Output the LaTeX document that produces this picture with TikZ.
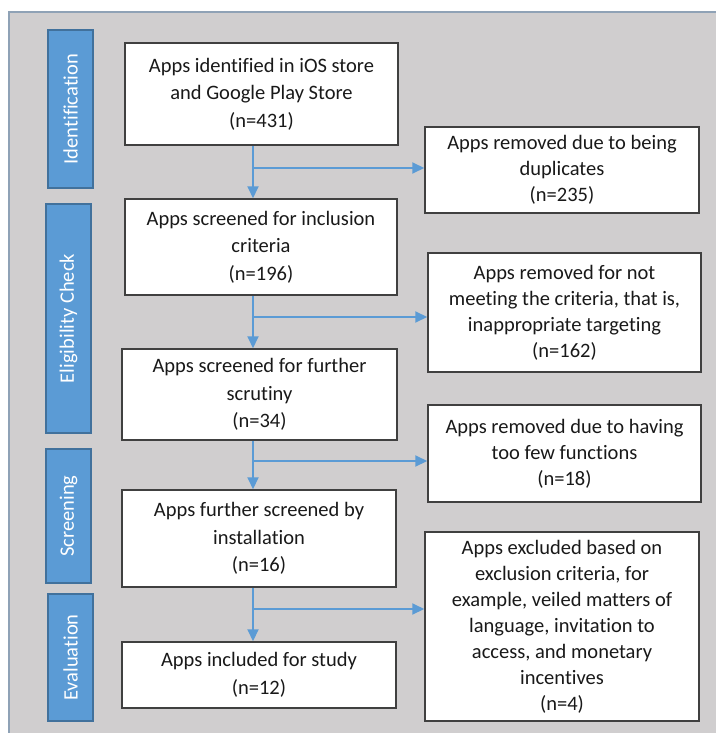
\documentclass[tikz,border=0pt]{standalone}
\usepackage{fontspec}
\setmainfont[Ligatures=NoCommon]{Carlito}
\usetikzlibrary{arrows.meta}

\definecolor{panelgray}{HTML}{D0CECF}
\definecolor{panelline}{HTML}{8FA2B6}
\definecolor{stageblue}{HTML}{5B9BD5}
\definecolor{stageedge}{HTML}{41719C}
\definecolor{boxedge}{HTML}{404040}

\tikzset{
  appbox/.style={draw=boxedge, line width=1.5pt, fill=white, align=center,
    inner sep=0pt, text=black!90, font=\fontsize{20.5}{27.5}\selectfont},
  outbox/.style={appbox, font=\fontsize{20.5}{26}\selectfont},
  stagebar/.style={draw=stageedge, line width=1.5pt, fill=stageblue, rotate=90,
    inner sep=0pt, text=white, minimum height=45pt, font=\fontsize{20.5}{24}\selectfont},
  flow/.style={draw=stageblue, line width=2pt, -{Triangle[length=12pt,width=11pt]}}
}

\begin{document}
\begin{tikzpicture}[x=1pt,y=-1pt]
  \useasboundingbox (0,0) rectangle (716,733);
  % grey panel
  \fill[panelgray] (9,12) rectangle (716,733);
  \draw[panelline, line width=1.5pt] (9,733) -- (9,12) -- (716,12);

  % stage bars
  \foreach \nm/\xc/\yc/\len/\txt in {1/70.5/109/158/Identification,
      2/68.5/318.5/229/Eligibility Check,
      3/68.5/516/134/Screening,
      4/70.5/657.5/127/Evaluation}{
    \node[stagebar, minimum width=\len pt] (s\nm) at (\xc,\yc) {\txt};
  };

  % main column
  \node[appbox, minimum width=273pt, minimum height=102pt] (b1) at (261.5,94)
    {Apps identified in iOS store\\and Google Play Store\\(n=431)};
  \node[appbox, minimum width=272pt, minimum height=96pt] (b2) at (261,247)
    {Apps screened for inclusion\\criteria\\(n=196)};
  \node[appbox, minimum width=275pt, minimum height=91pt] (b3) at (259.5,394.5)
    {Apps screened for further\\scrutiny\\(n=34)};
  \node[appbox, minimum width=274pt, minimum height=97pt] (b4) at (259,538.5)
    {Apps further screened by\\installation\\(n=16)};
  \node[appbox, minimum width=274pt, minimum height=66pt] (b5) at (259,675)
    {Apps included for study\\(n=12)};

  % removed apps
  \node[outbox, minimum width=274pt, minimum height=86pt] (r1) at (562,170)
    {Apps removed due to being\\duplicates\\(n=235)};
  \node[outbox, minimum width=273pt, minimum height=119pt] (r2) at (564.5,312.5)
    {Apps removed for not\\meeting the criteria, that is,\\inappropriate targeting\\(n=162)};
  \node[outbox, minimum width=273pt, minimum height=97pt] (r3) at (564.5,453.5)
    {Apps removed due to having\\too few functions\\(n=18)};
  \node[outbox, minimum width=274pt, minimum height=189pt] (r4) at (562,626.5)
    {Apps excluded based on\\exclusion criteria, for\\example, veiled matters of\\language, invitation to\\access, and monetary\\incentives\\(n=4)};

  % connectors
  \foreach \a/\b/\r/\yj in {b1/b2/r1/168, b2/b3/r2/317, b3/b4/r3/461, b4/b5/r4/609}{
    \coordinate (j\a) at (253,\yj);
    \draw[flow] (\a.south -| j\a) -- (\b.north -| j\a);
    \draw[flow] (j\a) -- (j\a -| \r.west);
  };
\end{tikzpicture}
\end{document}
